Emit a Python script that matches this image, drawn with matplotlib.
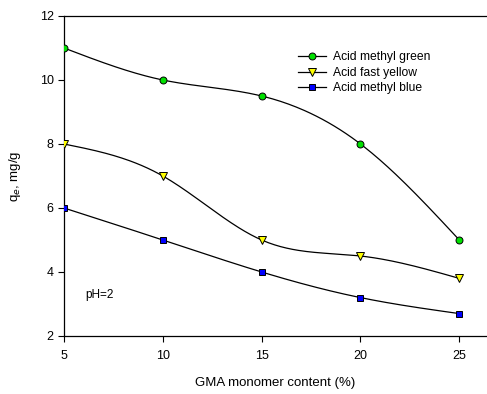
import matplotlib.pyplot as plt
import numpy as np

plt.rcParams['font.family'] = ['Liberation Sans', 'DejaVu Sans']

# GMA monomer content (%)
gma = [5, 10, 15, 20, 25]
# q_e, mg/g at pH=2
methyl_green = [11.0, 10.0, 9.5, 8.0, 5.0]
fast_yellow = [8.0, 7.0, 5.0, 4.5, 3.8]
methyl_blue = [6.0, 5.0, 4.0, 3.2, 2.7]


def spline(x, y, n=200):
    # natural cubic spline through the points (smooth curve like SigmaPlot)
    x = np.asarray(x, float)
    y = np.asarray(y, float)
    h = np.diff(x)
    m = len(x)
    A = np.zeros((m, m))
    b = np.zeros(m)
    A[0, 0] = A[-1, -1] = 1
    for i in range(1, m - 1):
        A[i, i - 1] = h[i - 1]
        A[i, i] = 2 * (h[i - 1] + h[i])
        A[i, i + 1] = h[i]
        b[i] = 6 * ((y[i + 1] - y[i]) / h[i] - (y[i] - y[i - 1]) / h[i - 1])
    M = np.linalg.solve(A, b)
    xs = np.linspace(x[0], x[-1], n)
    k = np.clip(np.searchsorted(x, xs) - 1, 0, m - 2)
    t0 = x[k + 1] - xs
    t1 = xs - x[k]
    hk = h[k]
    ys = (M[k] * t0**3 + M[k + 1] * t1**3) / (6 * hk) \
        + (y[k] / hk - M[k] * hk / 6) * t0 + (y[k + 1] / hk - M[k + 1] * hk / 6) * t1
    return xs, ys


fig = plt.figure(figsize=(4.87, 3.94), dpi=100)
ax = fig.add_axes([64 / 487, 58 / 394, 1 - 64 / 487, 320 / 394])

series = [
    (methyl_green, 'Acid methyl green', 'o', '#00e000', 5),
    (fast_yellow, 'Acid fast yellow', 'v', '#ffff00', 6),
    (methyl_blue, 'Acid methyl blue', 's', '#0000ff', 5),
]
for vals, name, mk, col, ms in series:
    xs, ys = spline(gma, vals)
    ax.plot(xs, ys, color='black', lw=0.9, zorder=2)
    ax.plot(gma, vals, linestyle='none', marker=mk, markersize=ms,
            markerfacecolor=col, markeredgecolor='black', markeredgewidth=0.7,
            zorder=3)
    ax.plot([], [], color='black', lw=0.9, marker=mk, markersize=ms,
            markerfacecolor=col, markeredgecolor='black', markeredgewidth=0.7,
            label=name)

ax.set_xlim(5, 26.4)
ax.set_ylim(2, 12)
ax.set_xticks([5, 10, 15, 20, 25])
ax.set_yticks([2, 4, 6, 8, 10, 12])
ax.tick_params(direction='out', length=4, width=0.8, labelsize=9)
ax.tick_params(axis='x', pad=6)
ax.spines['right'].set_visible(False)
for s in ['left', 'bottom', 'top']:
    ax.spines[s].set_linewidth(0.9)

ax.text(6.1, 3.28, 'pH=2', fontsize=8.5, va='center')
ax.set_xlabel('GMA monomer content (%)', fontsize=9.5, labelpad=11)
ax.set_ylabel('q$_e$, mg/g', fontsize=9.5, labelpad=12)

ax.legend(loc='upper left', bbox_to_anchor=(0.553, 0.89), frameon=False,
          fontsize=8.7, handlelength=2.3, handletextpad=0.6, labelspacing=0.3,
          borderaxespad=0, borderpad=0)

fig.savefig('out.png', dpi=100)
